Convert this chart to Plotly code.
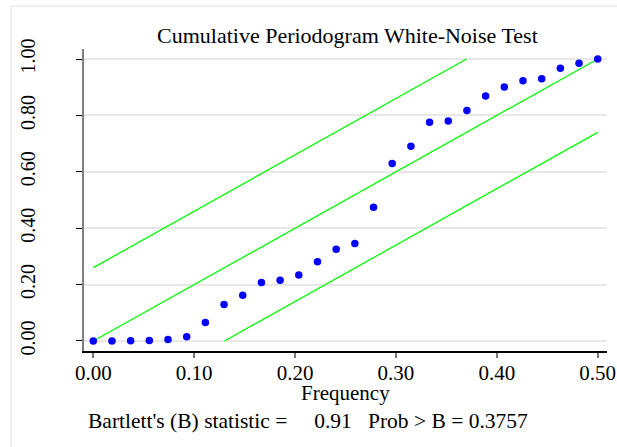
import plotly.graph_objects as go

# Data
frequency = [k / 54 for k in range(28)]
cum_periodogram = [0.000, 0.000, 0.001, 0.002, 0.005, 0.015, 0.066, 0.129,
                   0.162, 0.207, 0.215, 0.234, 0.281, 0.325, 0.346, 0.474,
                   0.629, 0.691, 0.776, 0.780, 0.817, 0.869, 0.901, 0.923,
                   0.930, 0.967, 0.985, 1.000]
band = 0.26  # width of the Kolmogorov-Smirnov band
x_ticks = [0.0, 0.1, 0.2, 0.3, 0.4, 0.5]
x_tick_labels = ["0.00", "0.10", "0.20", "0.30", "0.40", "0.50"]
y_ticks = [0.0, 0.2, 0.4, 0.6, 0.8, 1.0]
y_tick_labels = ["0.00", "0.20", "0.40", "0.60", "0.80", "1.00"]
title_text = "Cumulative Periodogram White-Noise Test"
x_title = "Frequency"
note_text = "Bartlett's (B) statistic =\u00a0\u00a0\u00a0\u00a0\u00a00.91\u00a0\u00a0\u00a0Prob > B = 0.3757"

FONT = "Liberation Serif, Times New Roman, serif"
GREEN = "#00ff00"

fig = go.Figure()

# confidence band lines and the diagonal
center_x = [0.0, 0.5]
center_y = [0.0, 1.0]
upper_x = [0.0, (1 - band) / 2]
upper_y = [band, 1.0]
lower_x = [band / 2, 0.5]
lower_y = [0.0, 1 - band]
for lx, ly in [(upper_x, upper_y), (center_x, center_y), (lower_x, lower_y)]:
    fig.add_trace(go.Scatter(x=lx, y=ly, mode="lines",
                             line=dict(color=GREEN, width=1.3),
                             hoverinfo="skip", showlegend=False))

fig.add_trace(go.Scatter(x=frequency, y=cum_periodogram, mode="markers",
                         marker=dict(color="#0000ff", size=7.5, line=dict(width=0)),
                         showlegend=False))

L, R, T, B = 84, 10, 49, 96
W, H = 617, 447
pw, ph = W - L - R, H - T - B

def px2paper_x(p):
    return (p - L) / pw

def px2paper_y(p):
    return (H - B - p) / ph

fig.update_layout(
    width=W, height=H,
    margin=dict(l=L, r=R, t=T, b=B, autoexpand=False),
    paper_bgcolor="white", plot_bgcolor="white",
    font=dict(family=FONT, size=20, color="black"),
    showlegend=False,
    xaxis=dict(range=[-0.0092, 0.5092], tickmode="array", tickvals=x_ticks,
               ticktext=x_tick_labels, showgrid=False, zeroline=False,
               showline=True, linecolor="black", linewidth=1.5,
               ticks="outside", ticklen=5, tickwidth=2, tickcolor="#777777",
               automargin=False, ticklabelstandoff=-3,
               tickfont=dict(family=FONT, size=21, color="black")),
    yaxis=dict(range=[-0.0355, 1.0355], tickmode="array", tickvals=y_ticks,
               ticktext=y_tick_labels, showgrid=True, gridcolor="#e8e8e8",
               gridwidth=1.5, zeroline=False, showline=True,
               linecolor="#808080", linewidth=2, ticks="outside", ticklen=6,
               tickwidth=1, tickcolor="black", tickangle=-90,
               ticklabelstandoff=33, automargin=False,
               tickfont=dict(family=FONT, size=20, color="black")),
    annotations=[
        dict(text=title_text, xref="paper", yref="paper",
             x=px2paper_x(347), y=px2paper_y(36), xanchor="center",
             yanchor="middle", showarrow=False,
             font=dict(family=FONT, size=22, color="black")),
        dict(text=x_title, xref="paper", yref="paper",
             x=px2paper_x(345.5), y=px2paper_y(393), xanchor="center",
             yanchor="middle", showarrow=False,
             font=dict(family=FONT, size=21, color="black")),
        dict(text=note_text, xref="paper", yref="paper",
             x=px2paper_x(86), y=px2paper_y(421), xanchor="left",
             yanchor="middle", showarrow=False,
             font=dict(family=FONT, size=21.5, color="black")),
    ],
    shapes=[
        dict(type="rect", xref="paper", yref="paper",
             x0=px2paper_x(11), y0=px2paper_y(470), x1=px2paper_x(640),
             y1=px2paper_y(6), line=dict(color="#ececec", width=1.5),
             fillcolor="rgba(0,0,0,0)", layer="below"),
    ],
)

fig.write_html("out.html", config={"displayModeBar": False},
               post_script="document.body.style.margin='0';document.body.style.padding='0';")
